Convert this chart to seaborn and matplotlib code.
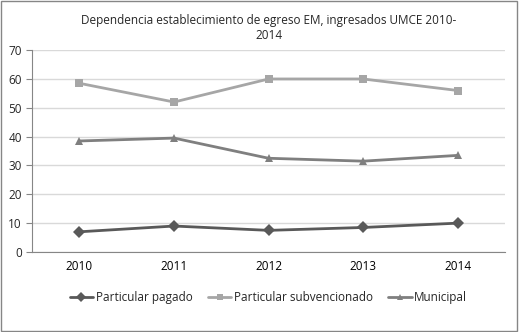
import pandas as pd
import matplotlib.pyplot as plt
import seaborn as sns
from matplotlib.patches import Rectangle

# Data
years = ["2010", "2011", "2012", "2013", "2014"]
particular_pagado = [7, 9, 7.5, 8.5, 10]
particular_subvencionado = [58.5, 52, 60, 60, 56]
municipal = [38.5, 39.5, 32.5, 31.5, 33.5]

series_names = ["Particular pagado", "Particular subvencionado", "Municipal"]
series_values = [particular_pagado, particular_subvencionado, municipal]

rows = []
for name, vals in zip(series_names, series_values):
    for y, v in zip(years, vals):
        rows.append({"Año": y, "Valor": v, "Serie": name})
df = pd.DataFrame(rows)

sns.set_style("white")
plt.rcParams['font.family'] = ['Open Sans', 'DejaVu Sans']

fig = plt.figure(figsize=(5.19, 3.32), dpi=100)
ax = fig.add_axes([0.062, 0.241, 0.911, 0.608])

palette = {"Particular pagado": "#595959",
           "Particular subvencionado": "#a6a6a6",
           "Municipal": "#7f7f7f"}
markers = {"Particular pagado": "D",
           "Particular subvencionado": "s",
           "Municipal": "^"}

sns.lineplot(data=df, x="Año", y="Valor", hue="Serie", style="Serie",
             palette=palette, markers=markers, dashes=False,
             markersize=6, linewidth=2, markeredgewidth=0,
             hue_order=series_names, style_order=series_names, ax=ax)

ax.set_ylim(0, 70)
ax.set_yticks(range(0, 71, 10))
ax.set_xlim(-0.5, 4.5)
ax.set_xlabel("")
ax.set_ylabel("")
ax.grid(axis="y", color="#d9d9d9", linewidth=1)
ax.set_axisbelow(True)
for side in ["top", "right"]:
    ax.spines[side].set_visible(False)
ax.spines["left"].set_color("#868686")
ax.spines["bottom"].set_color("#868686")
ax.set_xticks([i - 0.5 for i in range(6)], minor=True)
ax.tick_params(axis="x", which="major", length=0, labelsize=8.5, pad=6, colors="#000000")
ax.tick_params(axis="x", which="minor", length=4, color="#868686", direction="out")
ax.tick_params(axis="y", length=4, color="#868686", labelsize=8.5, left=True)

ax.set_title("Dependencia establecimiento de egreso EM, ingresados UMCE 2010-\n2014",
             fontsize=8.5, pad=8)

handles, labels = ax.get_legend_handles_labels()
ax.legend(handles, labels, loc="center", bbox_to_anchor=(0.517, 0.105),
          bbox_transform=fig.transFigure, ncol=3, frameon=False, fontsize=8.5,
          handlelength=2.0, handletextpad=0.2, columnspacing=1.3, markerscale=0.8)

fig.patches.append(Rectangle((0.002, 0.003), 0.994, 0.994, transform=fig.transFigure,
                             fill=False, edgecolor="#868686", linewidth=1))

plt.savefig("out.png", dpi=100)
